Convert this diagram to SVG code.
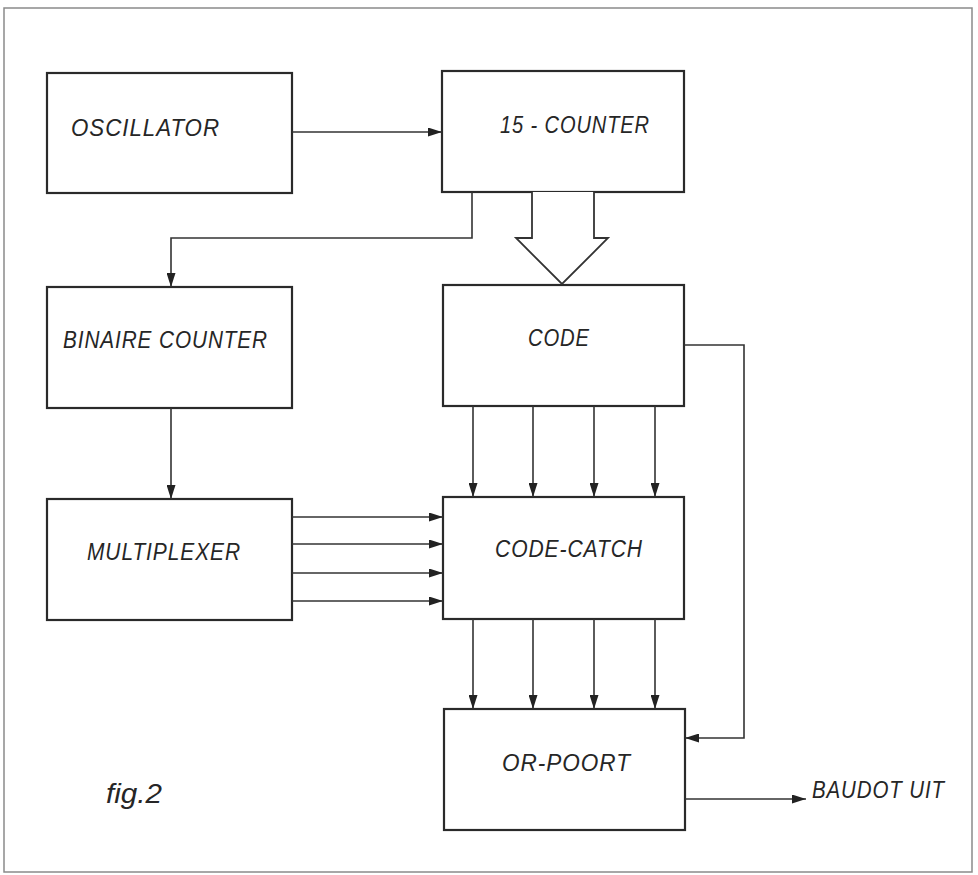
<svg xmlns="http://www.w3.org/2000/svg" width="978" height="875" viewBox="0 0 978 875">
<style>
.box{fill:#fff;stroke:#2a2a2a;stroke-width:2.2}
.ln{fill:none;stroke:#333;stroke-width:1.6}
.t{font-family:"Liberation Sans",Arial,sans-serif;font-style:italic;font-size:23px;fill:#262626;letter-spacing:1px}
</style>
<defs>
<marker id="ah" viewBox="0 0 14 9" refX="14" refY="4.5" markerWidth="14" markerHeight="9" markerUnits="userSpaceOnUse" orient="auto">
<path d="M0,0 L14,4.5 L0,9 Z" fill="#222"/>
</marker>
</defs>
<rect x="0" y="0" width="978" height="875" fill="#fff"/>
<rect x="4" y="8" width="968" height="864" fill="none" stroke="#8a8a8a" stroke-width="1.5"/>
<g id="oscillator"><rect class="box" x="47" y="73" width="245" height="120"/><text class="t" x="71" y="136" textLength="149" lengthAdjust="spacingAndGlyphs">OSCILLATOR</text></g>
<g id="counter15"><rect class="box" x="442" y="71" width="242" height="121"/><text class="t" x="500" y="133" textLength="150" lengthAdjust="spacingAndGlyphs">15 - COUNTER</text></g>
<g id="binaire"><rect class="box" x="47" y="287" width="245" height="121"/><text class="t" x="63" y="348" textLength="205" lengthAdjust="spacingAndGlyphs">BINAIRE COUNTER</text></g>
<g id="code"><rect class="box" x="443" y="285" width="241" height="121"/><text class="t" x="528" y="346" textLength="62" lengthAdjust="spacingAndGlyphs">CODE</text></g>
<g id="multiplexer"><rect class="box" x="47" y="499" width="245" height="121"/><text class="t" x="87" y="560" textLength="154" lengthAdjust="spacingAndGlyphs">MULTIPLEXER</text></g>
<g id="codecatch"><rect class="box" x="443" y="497" width="241" height="122"/><text class="t" x="495" y="557" textLength="148" lengthAdjust="spacingAndGlyphs">CODE-CATCH</text></g>
<g id="orpoort"><rect class="box" x="444" y="709" width="241" height="121"/><text class="t" x="502" y="771" textLength="129" lengthAdjust="spacingAndGlyphs">OR-POORT</text></g>
<g id="connectors">
<line class="ln" x1="292" y1="132" x2="442" y2="132" marker-end="url(#ah)"/>
<polyline class="ln" points="472,192 472,238 171,238 171,287" marker-end="url(#ah)"/>
<path d="M532,192 L532,238 L516,238 L562,284 L608,238 L594,238 L594,192" fill="#fff" stroke="#333" stroke-width="1.8" stroke-linejoin="miter"/>
<line class="ln" x1="171" y1="408" x2="171" y2="499" marker-end="url(#ah)"/>
<line class="ln" x1="473" y1="406" x2="473" y2="497" marker-end="url(#ah)"/>
<line class="ln" x1="533" y1="406" x2="533" y2="497" marker-end="url(#ah)"/>
<line class="ln" x1="594" y1="406" x2="594" y2="497" marker-end="url(#ah)"/>
<line class="ln" x1="655" y1="406" x2="655" y2="497" marker-end="url(#ah)"/>
<line class="ln" x1="473" y1="619" x2="473" y2="709" marker-end="url(#ah)"/>
<line class="ln" x1="533" y1="619" x2="533" y2="709" marker-end="url(#ah)"/>
<line class="ln" x1="594" y1="619" x2="594" y2="709" marker-end="url(#ah)"/>
<line class="ln" x1="655" y1="619" x2="655" y2="709" marker-end="url(#ah)"/>
<line class="ln" x1="292" y1="517" x2="443" y2="517" marker-end="url(#ah)"/>
<line class="ln" x1="292" y1="544" x2="443" y2="544" marker-end="url(#ah)"/>
<line class="ln" x1="292" y1="573" x2="443" y2="573" marker-end="url(#ah)"/>
<line class="ln" x1="292" y1="601" x2="443" y2="601" marker-end="url(#ah)"/>
<polyline class="ln" points="684,345 744,345 744,738 685,738" marker-end="url(#ah)"/>
<line class="ln" x1="685" y1="799" x2="806" y2="799" marker-end="url(#ah)"/>
</g>
<text class="t" x="812" y="798" textLength="133" lengthAdjust="spacingAndGlyphs">BAUDOT UIT</text>
<text class="t" x="106" y="803" style="font-size:28px;letter-spacing:0" textLength="56" lengthAdjust="spacingAndGlyphs">fig.2</text>
</svg>
